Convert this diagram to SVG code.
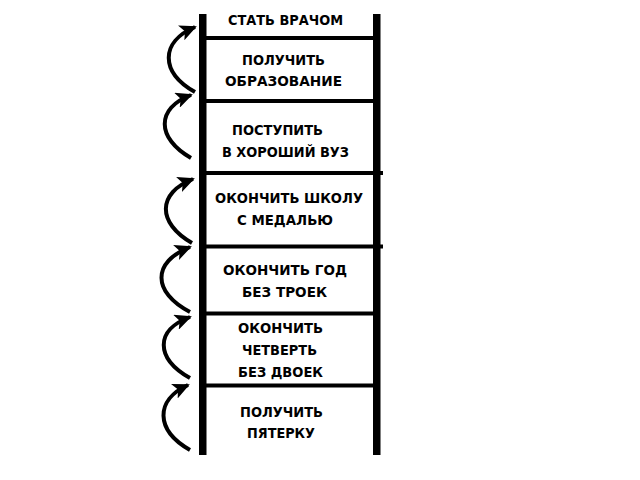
<svg xmlns="http://www.w3.org/2000/svg" width="640" height="480" viewBox="0 0 640 480">
<style>
.rail{fill:#000}
.rung{stroke:#000;stroke-width:4;fill:none}
.arr{stroke:#000;stroke-width:4;fill:none;marker-end:url(#ah)}
text{font-family:"DejaVu Sans","Liberation Sans",sans-serif;font-weight:bold;font-size:14.5px;fill:#000}
</style>
<defs>
<marker id="ah" markerUnits="userSpaceOnUse" markerWidth="18" markerHeight="16" viewBox="0 0 18 16" refX="15" refY="8" orient="auto">
<path d="M0,0 L17,8 L0,16 L4,8 z" fill="#000"/>
</marker>
</defs>
<rect width="640" height="480" fill="#fff"/>
<g id="ladder">
<rect class="rail" x="199" y="14" width="7.5" height="441"/>
<rect class="rail" x="373" y="14" width="7.5" height="441"/>
</g>
<g id="connectors">
<line class="rung" x1="203" y1="38" x2="377" y2="38"/>
<line class="rung" x1="203" y1="101" x2="377" y2="101"/>
<line class="rung" x1="203" y1="173" x2="383" y2="173"/>
<line class="rung" x1="203" y1="246.5" x2="383" y2="246.5"/>
<line class="rung" x1="203" y1="313.5" x2="377" y2="313.5"/>
<line class="rung" x1="203" y1="385.5" x2="377" y2="385.5"/>
<path class="arr" d="M195,92 C160,72 160,42 195,27"/>
<path class="arr" d="M191,158 C156,138 156,108 191,95"/>
<path class="arr" d="M192,243 C157,223 157,193 193,179"/>
<path class="arr" d="M190,312 C152,292 152,262 190,247"/>
<path class="arr" d="M190,378 C155,358 155,330 190,317"/>
<path class="arr" d="M190,450 C155,430 155,400 188,385"/>
</g>
<g id="n1"><text x="228" y="25" textLength="115" lengthAdjust="spacingAndGlyphs">СТАТЬ ВРАЧОМ</text></g>
<g id="n2"><text x="242" y="65" textLength="83" lengthAdjust="spacingAndGlyphs">ПОЛУЧИТЬ</text><text x="225" y="86" textLength="117" lengthAdjust="spacingAndGlyphs">ОБРАЗОВАНИЕ</text></g>
<g id="n3"><text x="232" y="135" textLength="91" lengthAdjust="spacingAndGlyphs">ПОСТУПИТЬ</text><text x="222" y="157" textLength="127" lengthAdjust="spacingAndGlyphs">В ХОРОШИЙ ВУЗ</text></g>
<g id="n4"><text x="215" y="203" textLength="148" lengthAdjust="spacingAndGlyphs">ОКОНЧИТЬ ШКОЛУ</text><text x="237" y="225" textLength="96" lengthAdjust="spacingAndGlyphs">С МЕДАЛЬЮ</text></g>
<g id="n5"><text x="223" y="275" textLength="124" lengthAdjust="spacingAndGlyphs">ОКОНЧИТЬ ГОД</text><text x="242" y="297" textLength="85" lengthAdjust="spacingAndGlyphs">БЕЗ ТРОЕК</text></g>
<g id="n6"><text x="238" y="333" textLength="85" lengthAdjust="spacingAndGlyphs">ОКОНЧИТЬ</text><text x="242" y="355" textLength="75" lengthAdjust="spacingAndGlyphs">ЧЕТВЕРТЬ</text><text x="238" y="377" textLength="85" lengthAdjust="spacingAndGlyphs">БЕЗ ДВОЕК</text></g>
<g id="n7"><text x="240" y="417" textLength="83" lengthAdjust="spacingAndGlyphs">ПОЛУЧИТЬ</text><text x="247" y="438" textLength="68" lengthAdjust="spacingAndGlyphs">ПЯТЕРКУ</text></g>
</svg>
